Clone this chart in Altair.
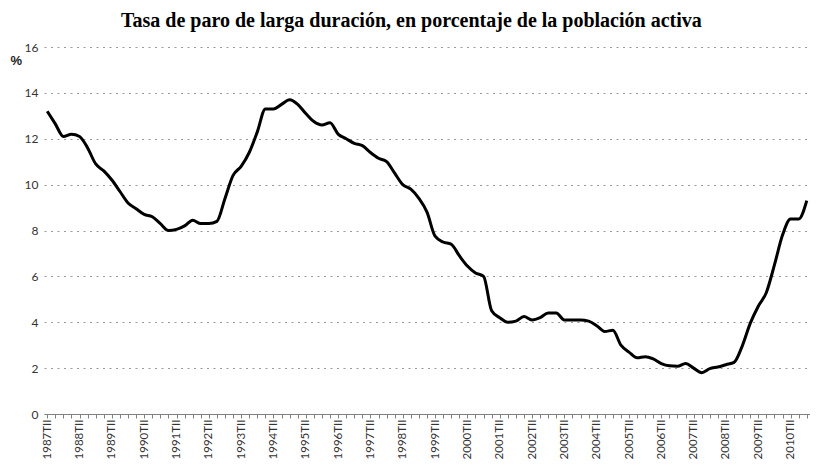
import altair as alt
import pandas as pd

years = list(range(1987, 2011))
quarters = ["TI", "TII", "TIII", "TIV"]
periods = [f"{y}{q}" for y in years for q in quarters][1:]

values = [
    13.2, 12.65, 12.1, 12.2, 12.1, 11.6, 10.9, 10.6, 10.2, 9.7,
    9.2, 8.95, 8.7, 8.6, 8.3, 8.0, 8.05, 8.2, 8.45, 8.3,
    8.3, 8.4, 9.4, 10.4, 10.8, 11.4, 12.3, 13.3, 13.3, 13.5,
    13.7, 13.5, 13.1, 12.75, 12.6, 12.7, 12.2, 12.0, 11.8, 11.7,
    11.4, 11.15, 11.0, 10.5, 10.0, 9.8, 9.4, 8.8, 7.75, 7.5,
    7.4, 6.9, 6.45, 6.15, 6.0, 4.5, 4.2, 4.0, 4.05, 4.25,
    4.1, 4.2, 4.4, 4.4, 4.1, 4.1, 4.1, 4.05, 3.85, 3.6,
    3.65, 3.0, 2.7, 2.45, 2.5, 2.4, 2.2, 2.1, 2.08, 2.2,
    2.0, 1.8, 1.98, 2.05, 2.15, 2.25, 2.95, 3.95, 4.7, 5.3,
    6.5, 7.8, 8.5, 8.5, 9.3,
]

y_ticks = [0, 2, 4, 6, 8, 10, 12, 14, 16]

df = pd.DataFrame({"periodo": periods, "tasa": values})

chart = alt.Chart(df).mark_line(
    color="black", strokeWidth=3, interpolate="monotone"
).encode(
    x=alt.X(
        "periodo:O",
        sort=periods,
        scale=alt.Scale(type="point", padding=0.4),
        axis=alt.Axis(
            title=None,
            labelAngle=270,
            labelExpr="test(/TII$/, datum.label) ? datum.label : ''",
            labelOverlap=False,
            labelFont="Lato",
            labelFontSize=11.5,
            labelColor="#333333",
            labelPadding=1,
            tickSize=4,
            tickColor="#808080",
            domainColor="#808080",
            domainWidth=1.2,
            grid=False,
        ),
    ),
    y=alt.Y(
        "tasa:Q",
        scale=alt.Scale(domain=[0, 16], nice=False, zero=True),
        axis=alt.Axis(
            values=y_ticks,
            title="%",
            titleAngle=0,
            titleX=-34,
            titleY=20,
            titleAlign="left",
            titleFont="Liberation Sans",
            titleFontSize=13,
            titleFontWeight="bold",
            titleColor="#222222",
            labelFont="Lato",
            labelFontSize=12,
            labelColor="#333333",
            labelPadding=6,
            ticks=False,
            domain=False,
            grid=True,
            gridColor="#9a9a9a",
            gridDash=[2, 4.5],
            gridWidth=1.2,
        ),
    ),
).properties(
    width=766,
    height=367,
    title=alt.TitleParams(
        text="Tasa de paro de larga duración, en porcentaje de la población activa",
        font="Liberation Serif",
        fontSize=20,
        fontWeight="bold",
        color="black",
        anchor="middle",
        frame="bounds",
        offset=10,
    ),
    autosize=alt.AutoSizeParams(type="none"),
    padding={"left": 36, "top": 39, "right": 0, "bottom": 46},
).configure_view(stroke=None)

chart.save("out.html", embed_options={"renderer": "svg", "actions": False})
